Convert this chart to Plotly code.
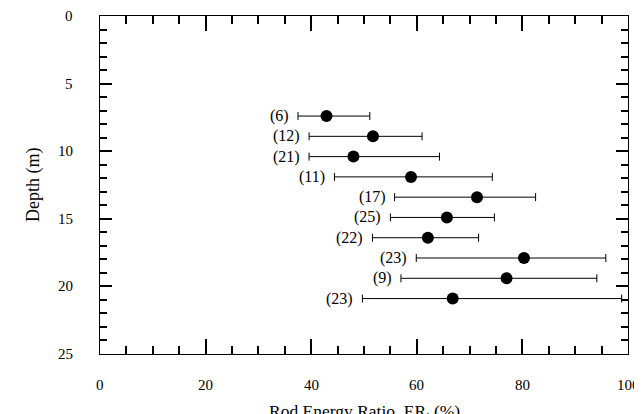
import plotly.graph_objects as go

depth = [7.4, 8.9, 10.4, 11.9, 13.4, 14.9, 16.4, 17.9, 19.4, 20.9]
er_mean = [42.9, 51.7, 48.0, 58.9, 71.4, 65.7, 62.1, 80.3, 77.0, 66.8]
er_min = [37.5, 39.6, 39.6, 44.4, 55.8, 55.0, 51.6, 59.9, 57.0, 49.7]
er_max = [51.1, 61.0, 64.3, 74.3, 82.5, 74.7, 71.7, 95.8, 94.1, 98.8]
counts = [6, 12, 21, 11, 17, 25, 22, 23, 9, 23]

x_range = [0, 100]
y_range = [25, 0]
x_ticks = [0, 20, 40, 60, 80, 100]
y_ticks = [0, 5, 10, 15, 20, 25]
x_title = "Rod Energy Ratio, ER<sub>i</sub> (%)"
y_title = "Depth (m)"

font = "Liberation Serif"

fig = go.Figure()
fig.add_trace(go.Scatter(
    x=er_mean, y=depth, mode="markers",
    marker=dict(color="black", size=12),
    error_x=dict(type="data", symmetric=False,
                 array=[mx - m for mx, m in zip(er_max, er_mean)],
                 arrayminus=[m - mn for mn, m in zip(er_min, er_mean)],
                 color="black", thickness=1, width=4),
    showlegend=False, hoverinfo="x+y",
))

for d, mn, n in zip(depth, er_min, counts):
    fig.add_annotation(x=mn, y=d, text=f"({n})", showarrow=False,
                       xanchor="right", yanchor="middle", xshift=-7,
                       font=dict(family=font, size=16, color="black"))

# tick labels set well away from the frame, as in the original
for t in x_ticks:
    fig.add_annotation(x=t, xref="x", y=0, yref="paper", text=str(t),
                       showarrow=False, xanchor="center", yanchor="top",
                       yshift=-21, font=dict(family=font, size=15, color="black"))
for t in y_ticks:
    fig.add_annotation(x=0, xref="paper", y=t, yref="y", text=str(t),
                       showarrow=False, xanchor="right", yanchor="middle",
                       xshift=-25, font=dict(family=font, size=15, color="black"))

# axis titles
fig.add_annotation(x=0.5, xref="paper", y=0, yref="paper", text=x_title,
                   showarrow=False, xanchor="center", yanchor="top", yshift=-45,
                   font=dict(family=font, size=17.5, color="black"))
fig.add_annotation(x=0, xref="paper", y=0.5, yref="paper", text=y_title,
                   showarrow=False, xanchor="center", yanchor="middle", xshift=-67,
                   textangle=-90, font=dict(family=font, size=18, color="black"))

# the page body adds an 8px offset, so the figure is sized to fit inside it
fig.update_layout(
    width=634, height=406,
    margin=dict(l=92, r=14, t=8, b=60, autoexpand=False),
    plot_bgcolor="white", paper_bgcolor="white",
    font=dict(family=font, size=15, color="black"),
    xaxis=dict(
        range=x_range, tickmode="array", tickvals=x_ticks, ticks="inside", ticklen=15,
        tickcolor="black", tickwidth=1.5, showticklabels=False, automargin=False,
        minor=dict(tickmode="linear", tick0=0, dtick=5, ticks="inside", ticklen=8,
                   tickcolor="black", tickwidth=1.5, showgrid=False),
        showline=True, linecolor="black", linewidth=1, mirror="ticks",
        showgrid=False, zeroline=False,
    ),
    yaxis=dict(
        range=y_range, tickmode="array", tickvals=y_ticks, ticks="inside", ticklen=12,
        tickcolor="black", tickwidth=1.5, showticklabels=False, automargin=False,
        minor=dict(tickmode="linear", tick0=0, dtick=1, ticks="inside", ticklen=7,
                   tickcolor="black", tickwidth=1.5, showgrid=False),
        showline=True, linecolor="black", linewidth=1, mirror="ticks",
        showgrid=False, zeroline=False,
    ),
)

fig.write_html("out.html")
